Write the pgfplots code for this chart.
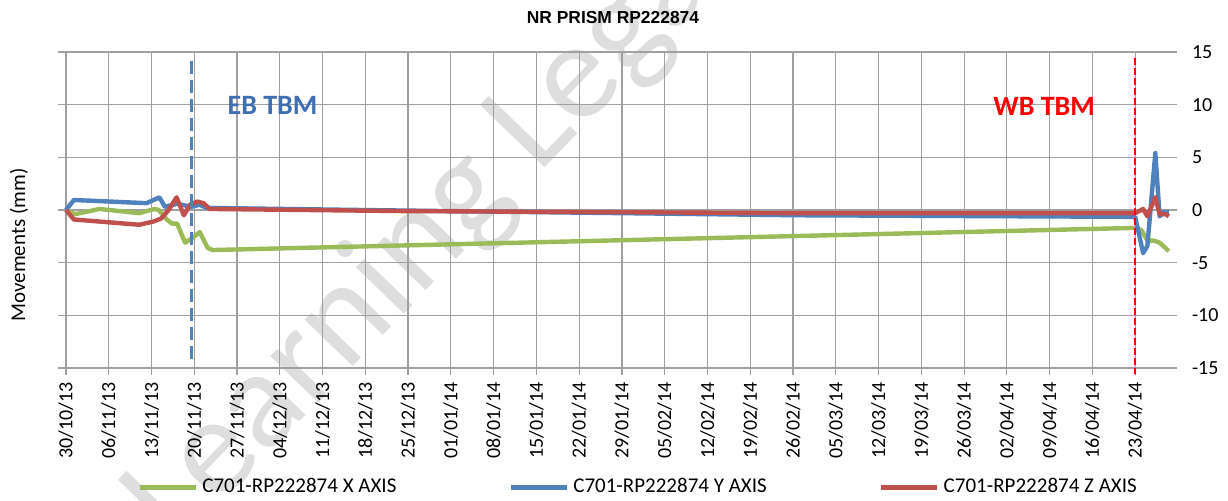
\documentclass[border=0pt]{standalone}
\usepackage{fontspec}
\setmainfont{Carlito}
\newfontfamily\arialfont{Liberation Sans}
\usepackage{pgfplots}
\pgfplotsset{compat=1.18}
\definecolor{cx}{HTML}{9BBB59}
\definecolor{cy}{HTML}{4F81BD}
\definecolor{cz}{HTML}{C0504D}
\definecolor{gridc}{HTML}{A0A0A0}
\definecolor{ebblue}{HTML}{3F6FB0}
\begin{document}
\begin{tikzpicture}[x=1pt,y=1pt]
\path[use as bounding box] (0,0) rectangle (614,250);
\fill[white] (0,0) rectangle (614,250);
\node[rotate=46, text=black!13, font=\fontsize{70}{70}\selectfont, anchor=center] at (232,150) {Learning Legacy};
\begin{axis}[
  at={(29pt,66pt)}, anchor=south west, scale only axis,
  width=556pt, height=158pt,
  xmin=-1.3, xmax=180.7, ymin=-15, ymax=15,
  xtick={0,7,...,175},
  xticklabels={30/10/13,06/11/13,13/11/13,20/11/13,27/11/13,04/12/13,11/12/13,18/12/13,25/12/13,01/01/14,08/01/14,15/01/14,22/01/14,29/01/14,05/02/14,12/02/14,19/02/14,26/02/14,05/03/14,12/03/14,19/03/14,26/03/14,02/04/14,09/04/14,16/04/14,23/04/14},
  ytick={-15,-10,...,15},
  xtick pos=bottom, ytick pos=right,
  tick align=outside, major tick length=3.5pt,
  tick style={gridc, line width=0.6pt},
  grid=major, major grid style={gridc, line width=0.6pt},
  axis line style={draw=none},
  ticklabel style={font=\fontsize{10}{12}\selectfont, text=black},
  x tick label style={rotate=90, anchor=east},
  y tick label style={anchor=west, xshift=4pt},
  /pgf/number format/assume math mode=true,
  clip=false,
  legend columns=3,
  legend style={at={(0.5225,-0.3766)}, anchor=center, draw=none, fill=none,
    font=\fontsize{10.5}{12}\selectfont,
    /tikz/every even column/.append style={column sep=54pt}},
  legend image code/.code={\draw[#1, line width=2.5pt] (0pt,0pt) -- (28pt,0pt);},
]
\draw[gridc, line width=0.6pt] (rel axis cs:0,0) -- (rel axis cs:1,0);
\addplot[cx, line width=2.2pt, line join=round] coordinates {
(0,0) (1.5,-0.4) (5.5,0.1) (12,-0.3) (14.5,0.1) (15.2,0) (16.5,-0.9) (17.4,-1.3) (18.2,-1.3) (19.5,-3.1) (20.6,-2.7) (21.9,-2.1) (23.2,-3.6) (24,-3.8) (175,-1.7) (176,-1.9) (177,-2.9) (178,-2.9) (179,-3.1) (180.5,-3.9)
};
\addlegendentry{C701-RP222874 X AXIS}
\addplot[cy, line width=2.2pt, line join=round] coordinates {
(0,0) (1.3,0.95) (13.2,0.65) (15.3,1.2) (16.2,0.3) (18.2,0.6) (20.5,0.3) (21.9,0.5) (23,0.2) (55,-0.05) (120,-0.5) (175,-0.65) (176.3,-4.1) (177,-3.4) (178.3,5.4) (179,-0.6) (179.6,-0.2) (180.5,-0.2)
};
\addlegendentry{C701-RP222874 Y AXIS}
\addplot[cz, line width=2.2pt, line join=round] coordinates {
(0,0) (1.3,-0.9) (12,-1.4) (14.3,-1.1) (15.6,-0.8) (16.8,0) (18.1,1.2) (19.3,-0.5) (20.3,0.5) (21.5,0.8) (22.5,0.65) (23.5,0.1) (55,-0.1) (120,-0.3) (175,-0.3) (176.3,0.1) (177,-0.6) (178.3,1.2) (179,-0.4) (180,-0.4) (180.5,-0.6)
};
\addlegendentry{C701-RP222874 Z AXIS}
\addplot[cy, line width=1.6pt, dash pattern=on 6.5pt off 3pt, forget plot] coordinates {(20.5,14.1) (20.5,-14.4)};
\addplot[red, line width=1pt, dash pattern=on 3.5pt off 1.5pt, forget plot] coordinates {(175,14.4) (175,-15.6)};
\node[text=ebblue, font=\bfseries\fontsize{14}{16}\selectfont] at (axis cs:33.8,9.9) {EB TBM};
\node[text=red, font=\bfseries\fontsize{14}{16}\selectfont] at (axis cs:160.1,9.8) {WB TBM};
\end{axis}
\node[font=\arialfont\bfseries\fontsize{8.7}{10}\selectfont] at (306.5,241) {NR PRISM RP222874};
\node[rotate=90, font=\fontsize{10.5}{12}\selectfont] at (9.5,127.5) {Movements (mm)};
\end{tikzpicture}
\end{document}
